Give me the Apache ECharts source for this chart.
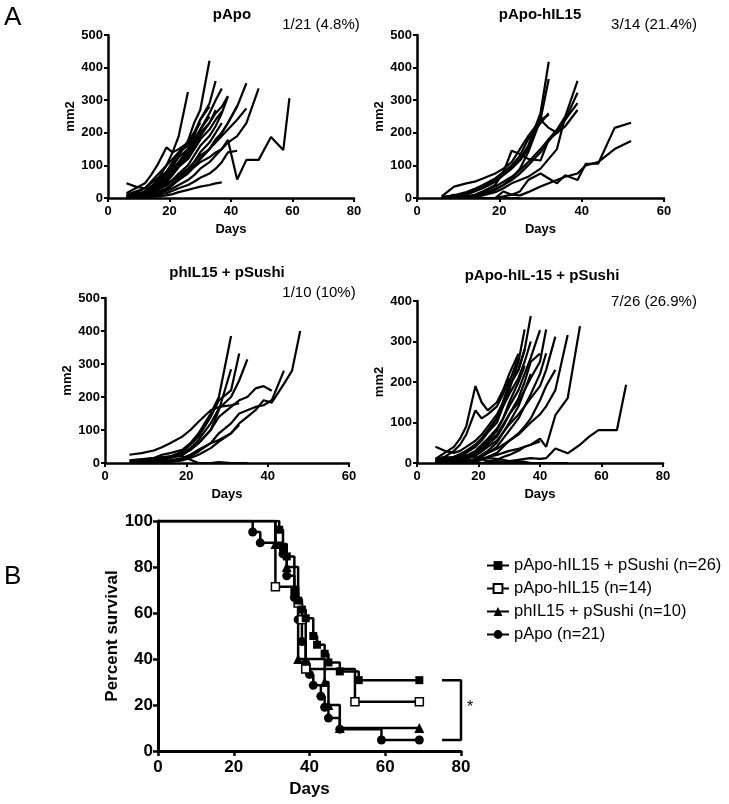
<!DOCTYPE html>
<html><head><meta charset="utf-8">
<script src="https://cdn.jsdelivr.net/npm/echarts@6/dist/echarts.min.js"></script>
<style>html,body{margin:0;padding:0;background:#fff}#c{width:729px;height:804px}</style>
</head><body><div id="c"></div>
<script>
const FONT = "'Liberation Sans', Arial, sans-serif";

// ---------- Panel A: tumour growth (mm2) per mouse ----------
// pApo (21 mice)
const daysApo = [6, 9, 12, 14, 16, 19, 21, 23, 26, 28, 30, 33, 35, 37, 39, 42, 45, 49, 53, 57, 59];
const linesApo = [
  [0,5,15,30,55,100,140,190,325],
  [2,8,18,30,45,70,95,130,175,230,270,421],
  [0,3,10,20,35,55,80,110,150,190,240,290,359],
  [0,0,5,10,18,28,40,55,75,95,120,150,180,200,230,280,352],
  [0,0,3,8,14,22,30,40,55,70,90,110,130,150,170,190,230,336],
  [5,10,20,35,50,70,90,110,140,170,200,230,260,280,313],
  [5,10,15,25,35,45,55,65,80,95,110,125,140,150,178,57,117,117,187,147,306],
  [0,5,12,25,40,60,80,105,135,170,210,260,300,336],
  [0,2,8,15,25,38,55,75,100,130,160,190,220,260,311],
  [0,0,5,10,18,30,45,60,80,100,120,150,175,200,230,283],
  [0,3,10,18,28,40,55,70,90,110,130,150,170,190,210,240,275],
  [3,10,20,32,45,60,80,100,130,160,190,230,270],
  [10,20,30,45,60,80,100,125,150,180,210,250],
  [0,5,15,30,50,80,110,140,170,200,230],
  [5,15,30,50,70,100,120,140,160,200],
  [0,0,3,6,10,15,22,30,40,50,62,75,90,110,140,145],
  [0,0,0,2,5,8,12,18,25,30,35,40,45,48],
  [15,30,45,70,100,155,140,150,170,200,240,280],
  [45,35,30,35,45,60,80,100,120,150,180,210,240,265],
  [0,0,5,15,30,50,70,95,120,150,180],
  [0,0,0,5,12,25,40,60,85,110,140,170,200,230]
];

// pApo-hIL15 (14 mice)
const daysIL15 = [6, 9, 12, 14, 16, 19, 21, 23, 25, 27, 30, 32, 34, 36, 39, 41, 44, 48, 52];
const linesIL15 = [
  [0,5,15,25,35,55,75,95,120,160,260,418],
  [0,3,10,20,30,50,70,90,115,150,240,365],
  [0,8,18,28,40,60,80,100,130,180,230,260],
  [5,35,45,50,60,75,90,110,150,190,240,255],
  [0,0,5,10,20,35,50,65,85,110,150,180,210,250,359],
  [0,0,3,8,15,28,40,55,75,100,140,175,205,240,323],
  [0,0,3,8,20,40,80,145,135,120,115,180,200,240,291],
  [0,0,0,5,12,25,40,60,90,140,240,215,200,220,270],
  [0,0,0,3,8,18,30,45,55,65,90,120,150,250],
  [0,0,0,0,0,0,5,10,20,55,75,60,45,70,55,105,105,215,231],
  [0,0,0,0,0,0,20,10,8,18,35,45,55,65,75,100,110,150,175],
  [5,5,3,0,0,0,0],
  [0,10,5,0,0],
  [3,0,0,0,0,0,0,0,0]
];

// phIL15 + pSushi (10 mice)
const daysSushi = [6, 9, 12, 14, 16, 19, 21, 23, 26, 28, 31, 33, 35, 37, 39, 41, 44, 46, 48];
const linesSushi = [
  [5,10,15,25,30,40,60,90,150,200,385],
  [0,5,10,15,20,35,55,80,140,190,220,332],
  [0,3,8,12,18,30,45,70,120,165,200,250,314],
  [0,0,3,8,15,25,40,60,100,160,284],
  [0,0,0,0,3,8,15,25,45,65,90,120,140,160,190,183,240,280,400],
  [0,0,0,0,5,10,20,35,60,90,120,150,160,170,175,190,280],
  [0,0,3,8,15,25,40,60,100,140,170,190,200,226,233,219],
  [0,0,0,3,8,15,25,40,60,70,90,115],
  [25,30,38,48,60,80,100,125,160,170,175,181],
  [8,12,15,18,20,21,10,0,0,3,0,0,0]
];

// pApo-hIL-15 + pSushi (26 mice)
const daysCombo = [6, 9, 12, 14, 16, 19, 21, 23, 26, 28, 30, 33, 35, 37, 40, 42, 45, 49, 53, 56, 59, 62, 65, 68];
const linesCombo = [
  [5,10,15,22,30,45,60,80,110,150,190,230,280,363],
  [0,5,10,18,28,40,55,75,100,140,180,250,330],
  [3,8,14,20,30,45,60,80,110,140,170,210,250,300],
  [40,30,25,30,40,55,70,90,120,150,190,230,280],
  [0,0,5,10,18,30,45,60,85,110,140,180,220,260,328],
  [0,0,3,8,15,25,35,50,70,95,120,150,180,210,250,330],
  [0,0,0,5,10,18,28,40,55,75,95,120,140,160,190,230,312],
  [0,0,0,0,5,10,15,25,35,45,55,70,85,100,120,140,180,316],
  [0,0,0,0,0,5,10,15,20,25,30,35,40,45,60,40,118,160,338],
  [0,0,0,0,0,0,0,0,0,0,5,8,10,12,10,12,36,24,45,65,81,81,81,193],
  [10,25,40,60,90,190,150,130,150,180,220,270],
  [5,15,30,45,70,130,110,120,140,170,210],
  [0,5,10,15,25,40,60,80,110,150,200,260],
  [0,0,5,10,15,25,40,55,80,110,150,200,240],
  [0,0,0,5,10,20,30,45,65,90,120,160,200,250,270],
  [0,0,0,0,5,10,20,30,50,75,100,140,180,220],
  [0,0,0,0,3,8,15,25,40,60,80,110,140,170,220,271],
  [0,0,0,0,0,3,8,15,25,40,55,73,90,110,155,190,230],
  [0,0,0,0,0,0,0,3,8,15,20,30,40,45,53],
  [5,8,5,3,0,0,0,0,0],
  [10,15,12,8,5,3,0,0],
  [0,5,10,8,5,0,0,0,0,0,0],
  [3,5,0,0,0],
  [8,10,15,20,18,15,10,5,3,0,0,0,0,0,0],
  [0,0,0,3,5,8,10,12,10,8,5,5,3,0,0,0,0],
  [0,0,0,0,0,0,0,0,5,3,0,0,0,0,0,0,0,0]
];

const panelTitles = ['pApo', 'pApo-hIL15', 'phIL15 + pSushi', 'pApo-hIL-15 + pSushi'];
const panelCounts = ['1/21 (4.8%)', '3/14 (21.4%)', '1/10 (10%)', '7/26 (26.9%)'];

// ---------- Panel B: Kaplan-Meier survival ----------
const kmNames = ['pApo-hIL15 + pSushi (n=26)', 'pApo-hIL15 (n=14)', 'phIL15 + pSushi (n=10)', 'pApo (n=21)'];
const kmComboDays = [0, 32, 33, 34, 36, 37, 38, 39, 41, 42, 44, 45, 48, 53, 69];
const kmComboPct  = [100, 96.2, 88.5, 84.6, 69.2, 65.4, 61.5, 57.7, 50.0, 46.2, 42.3, 38.5, 34.6, 30.8, 30.8];
const kmIL15Days = [0, 31, 37, 38, 39, 52, 69];
const kmIL15Pct  = [100, 71.4, 64.3, 57.1, 35.7, 21.4, 21.4];
const kmSushiDays = [0, 31, 34, 37, 44, 45, 48, 69];
const kmSushiPct  = [100, 90, 80, 40, 30, 20, 10, 10];
const kmApoDays = [0, 25, 27, 33, 34, 36, 37, 38, 39, 40, 41, 43, 44, 45, 48, 59, 69];
const kmApoPct  = [100, 95.2, 90.5, 85.7, 76.2, 66.7, 57.1, 47.6, 38.1, 33.3, 28.6, 23.8, 19.0, 14.3, 9.5, 4.8, 4.8];
// significance bracket (days, percent)
const bracketDays = [75, 80, 80, 75];
const bracketPct  = [30.8, 30.8, 4.8, 4.8];

// ---------- build ----------
const grids = [
  {left:108, top:35, width:246, height:163},
  {left:417, top:35, width:247, height:163},
  {left:105, top:298, width:244, height:165},
  {left:417, top:301, width:246, height:162},
  {left:158, top:521, width:303, height:230}
];
const xMax = [80, 60, 60, 80, 80];
const yMax = [500, 500, 500, 400, 100];
const yInt = [100, 100, 100, 100, 20];

const xAxes = [], yAxes = [];
grids.forEach((g, i) => {
  const big = i === 4;
  const lab = {fontWeight:'bold', fontSize: big ? 17 : 13, color:'#000', fontFamily: FONT};
  xAxes.push({
    gridIndex:i, type:'value', min:0, max:xMax[i], interval:20,
    name:'Days', nameLocation:'middle', nameGap: big ? 30 : 25,
    nameTextStyle:{fontWeight:'bold', fontSize: big ? 17 : 13, color:'#000', fontFamily: FONT},
    axisLine:{onZero:false, lineStyle:{color:'#000', width: big ? 3 : 2.5}},
    axisTick:{length: big ? 5 : 4, lineStyle:{color:'#000', width: big ? 2.5 : 2}},
    axisLabel:Object.assign({margin: big ? 8 : 7}, lab),
    splitLine:{show:false}
  });
  yAxes.push({
    gridIndex:i, type:'value', min:0, max:yMax[i], interval:yInt[i],
    name: big ? 'Percent survival' : 'mm2', nameLocation:'middle', nameGap: big ? 37 : 30,
    nameTextStyle:{fontWeight:'bold', fontSize: big ? 17 : 13, color:'#000', fontFamily: FONT},
    axisLine:{onZero:false, lineStyle:{color:'#000', width: big ? 3 : 2.5}},
    axisTick:{length: big ? 5 : 4, lineStyle:{color:'#000', width: big ? 2.5 : 2}},
    axisLabel:Object.assign({margin: 5}, lab),
    splitLine:{show:false}
  });
});

const series = [];
function addGroup(days, lines, gi) {
  lines.forEach(vals => {
    series.push({
      type:'line', xAxisIndex:gi, yAxisIndex:gi,
      data: vals.map((v, k) => [days[k], v]),
      symbol:'none', showSymbol:false, silent:true,
      lineStyle:{color:'#000', width:2.2}, z:2
    });
  });
}
addGroup(daysApo, linesApo, 0);
addGroup(daysIL15, linesIL15, 1);
addGroup(daysSushi, linesSushi, 2);
addGroup(daysCombo, linesCombo, 3);

function km(name, days, pct, symbol, size, itemStyle) {
  return {
    type:'line', name, step:'end', xAxisIndex:4, yAxisIndex:4,
    data: days.map((d, k) => k === 0 ? {value:[d, pct[k]], symbol:'none'} : [d, pct[k]]),
    symbol, symbolSize:size, showSymbol:true,
    itemStyle, lineStyle:{color:'#000', width:2.5}, z:3
  };
}
series.push(km(kmNames[3], kmApoDays, kmApoPct, 'circle', 9, {color:'#000'}));
series.push(km(kmNames[2], kmSushiDays, kmSushiPct, 'triangle', 10, {color:'#000'}));
series.push(km(kmNames[1], kmIL15Days, kmIL15Pct, 'rect', 8, {color:'#fff', borderColor:'#000', borderWidth:1.5}));
series.push(km(kmNames[0], kmComboDays, kmComboPct, 'rect', 8, {color:'#000'}));
series.push({
  type:'line', xAxisIndex:4, yAxisIndex:4, silent:true,
  data: bracketDays.map((d, k) => [d, bracketPct[k]]),
  symbol:'none', lineStyle:{color:'#000', width:2.5}, clip:false
});

function txt(x, y, text, font, align) {
  return {type:'text', x, y, silent:true,
    style:{text, font, fill:'#000', align: align || 'center', verticalAlign:'middle'}};
}
const titleCenters = [[232,15],[540,15],[227,273],[542,276]];
const countCenters = [[321,25],[654,25],[319,293],[654,302]];
const graphics = [
  txt(4, 18, 'A', '26px ' + FONT, 'left'),
  txt(4, 577, 'B', '26px ' + FONT, 'left'),
  txt(470, 708, '*', '16px ' + FONT, 'center')
];
panelTitles.forEach((t, i) => graphics.push(txt(titleCenters[i][0], titleCenters[i][1], t, 'bold 15px ' + FONT)));
panelCounts.forEach((t, i) => graphics.push(txt(countCenters[i][0], countCenters[i][1], t, '15px ' + FONT)));

const chart = echarts.init(document.getElementById('c'), null, {renderer:'canvas'});
chart.setOption({
  animation:false,
  backgroundColor:'#fff',
  grid: grids,
  xAxis: xAxes,
  yAxis: yAxes,
  legend:{
    data: kmNames, orient:'vertical', left:481, top:552,
    itemWidth:22, itemHeight:11, itemGap:6,
    textStyle:{fontSize:16.5, color:'#000', fontFamily: FONT}
  },
  graphic: graphics,
  series
});
</script></body></html>
